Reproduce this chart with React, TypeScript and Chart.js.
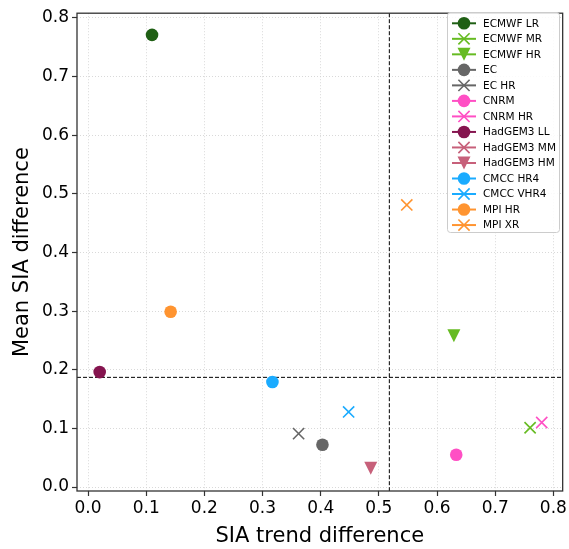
import React, { useEffect, useRef } from 'react';
import { Chart, registerables } from 'chart.js';

Chart.register(...registerables);

const MODELS = ['ECMWF LR', 'ECMWF MR', 'ECMWF HR', 'EC', 'EC HR', 'CNRM', 'CNRM HR', 'HadGEM3 LL', 'HadGEM3 MM', 'HadGEM3 HM', 'CMCC HR4', 'CMCC VHR4', 'MPI HR', 'MPI XR'];
const TREND_DIFF: (number | null)[] = [0.110, 0.760, 0.629, 0.403, 0.362, 0.633, 0.780, 0.020, null, 0.486, 0.317, 0.448, 0.142, 0.548];
const MEAN_DIFF: (number | null)[] = [0.771, 0.101, 0.258, 0.072, 0.091, 0.055, 0.110, 0.196, null, 0.032, 0.179, 0.128, 0.299, 0.481];
const COLORS = ['#1f5f14', '#66bb22', '#66bb22', '#666666', '#666666', '#ff4fc4', '#ff4fc4', '#85154f', '#c7607a', '#c7607a', '#1aabff', '#1aabff', '#ff9430', '#ff9430'];
const MARKERS = ['circle', 'x', 'tri', 'circle', 'x', 'circle', 'x', 'circle', 'x', 'tri', 'circle', 'x', 'circle', 'x'];
const X_TICKS = [0, 0.1, 0.2, 0.3, 0.4, 0.5, 0.6, 0.7, 0.8];
const Y_TICKS = [0, 0.1, 0.2, 0.3, 0.4, 0.5, 0.6, 0.7, 0.8];
const X_REF = 0.518;
const Y_REF = 0.187;

const FONT = 'DejaVu Sans';

function drawMarker(ctx: CanvasRenderingContext2D, kind: string, x: number, y: number, color: string) {
  ctx.save();
  ctx.fillStyle = color;
  ctx.strokeStyle = color;
  if (kind === 'circle') {
    ctx.beginPath();
    ctx.arc(x, y, 6.3, 0, Math.PI * 2);
    ctx.fill();
  } else if (kind === 'x') {
    const h = 5.6;
    ctx.lineWidth = 1.6;
    ctx.beginPath();
    ctx.moveTo(x - h, y - h);
    ctx.lineTo(x + h, y + h);
    ctx.moveTo(x - h, y + h);
    ctx.lineTo(x + h, y - h);
    ctx.stroke();
  } else {
    const h = 6.5;
    ctx.beginPath();
    ctx.moveTo(x - h, y - h);
    ctx.lineTo(x + h, y - h);
    ctx.lineTo(x, y + h);
    ctx.closePath();
    ctx.fill();
  }
  ctx.restore();
}

const overlayPlugin = {
  id: 'overlay',
  beforeDatasetsDraw(chart: any) {
    const { ctx, chartArea, scales } = chart;
    const xr = scales.x.getPixelForValue(X_REF);
    const yr = scales.y.getPixelForValue(Y_REF);
    ctx.save();
    ctx.strokeStyle = '#000';
    ctx.lineWidth = 1;
    ctx.setLineDash([4, 2]);
    ctx.beginPath();
    ctx.moveTo(xr, chartArea.top);
    ctx.lineTo(xr, chartArea.bottom);
    ctx.moveTo(chartArea.left, yr);
    ctx.lineTo(chartArea.right, yr);
    ctx.stroke();
    ctx.restore();
  },
  afterDatasetsDraw(chart: any) {
    const { ctx, chartArea, scales } = chart;
    chart.data.datasets.forEach((ds: any, i: number) => {
      ds.data.forEach((p: any) => {
        if (p.x == null || p.y == null) return;
        drawMarker(ctx, MARKERS[i], scales.x.getPixelForValue(p.x), scales.y.getPixelForValue(p.y), COLORS[i]);
      });
    });
    ctx.save();
    ctx.strokeStyle = '#333';
    ctx.lineWidth = 1.3;
    ctx.strokeRect(chartArea.left, chartArea.top, chartArea.right - chartArea.left, chartArea.bottom - chartArea.top);
    ctx.restore();
    const lx = 447, ly = 12, lw = 112, lh = 220;
    ctx.save();
    ctx.fillStyle = 'rgba(255,255,255,0.85)';
    ctx.strokeStyle = '#cccccc';
    ctx.lineWidth = 1;
    ctx.beginPath();
    (ctx as any).roundRect(lx + 0.5, ly + 0.5, lw, lh, 3);
    ctx.fill();
    ctx.stroke();
    ctx.font = `10.5px "${FONT}"`;
    ctx.textBaseline = 'middle';
    ctx.textAlign = 'left';
    MODELS.forEach((name, i) => {
      const y = 23.3 + i * 15.52;
      ctx.strokeStyle = COLORS[i];
      ctx.lineWidth = 2;
      ctx.beginPath();
      ctx.moveTo(452, y);
      ctx.lineTo(476, y);
      ctx.stroke();
      drawMarker(ctx, MARKERS[i], 464, y, COLORS[i]);
      ctx.fillStyle = '#000';
      ctx.fillText(name, 483, y + 0.5);
    });
    ctx.restore();
  },
};

export default function App() {
  const ref = useRef<HTMLCanvasElement>(null);
  useEffect(() => {
    if (!ref.current) return;
    const datasets = MODELS.map((m, i) => ({
      label: m,
      data: TREND_DIFF[i] == null ? [] : [{ x: TREND_DIFF[i] as number, y: MEAN_DIFF[i] as number }],
      pointRadius: 0,
      pointHoverRadius: 0,
      backgroundColor: COLORS[i],
      borderColor: COLORS[i],
    }));
    const tickFont = { family: FONT, size: 17 };
    const titleFont = { family: FONT, size: 21 };
    const gridOpts = { color: '#cfcfcf', lineWidth: 0.8, tickColor: '#333', tickWidth: 1.2, tickBorderDash: [], tickLength: 5, drawTicks: true };
    const chart = new Chart(ref.current, {
      type: 'scatter',
      data: { datasets },
      plugins: [overlayPlugin],
      options: {
        responsive: false,
        animation: false,
        layout: { padding: { top: 8, right: 6, left: 0, bottom: 0 } },
        plugins: { legend: { display: false }, tooltip: { enabled: false } },
        scales: {
          x: {
            type: 'linear',
            min: -0.019,
            max: 0.816,
            afterBuildTicks: (s: any) => { s.ticks = X_TICKS.map((v) => ({ value: v })); },
            afterFit: (s: any) => { s.height = 58; },
            ticks: { font: tickFont, color: '#000', padding: 2, callback: (v: any) => Number(v).toFixed(1), maxRotation: 0, autoSkip: false },
            grid: gridOpts,
            border: { display: false, dash: [1, 2] },
            title: { display: true, text: 'SIA trend difference', font: titleFont, color: '#000', padding: { top: 0, bottom: 0 } },
          },
          y: {
            type: 'linear',
            min: -0.0068,
            max: 0.808,
            afterBuildTicks: (s: any) => { s.ticks = Y_TICKS.map((v) => ({ value: v })); },
            afterFit: (s: any) => { s.width = 77; },
            ticks: { font: tickFont, color: '#000', padding: 3, callback: (v: any) => Number(v).toFixed(1), autoSkip: false },
            grid: gridOpts,
            border: { display: false, dash: [1, 2] },
            title: { display: true, text: 'Mean SIA difference', font: titleFont, color: '#000', padding: { top: 10, bottom: 0 } },
          },
        },
      },
    } as any);
    return () => chart.destroy();
  }, []);
  return (
    <div style={{ position: 'fixed', left: 0, top: 0, width: 569, height: 549, background: '#fff' }}>
      <canvas ref={ref} width={569} height={549} />
    </div>
  );
}
